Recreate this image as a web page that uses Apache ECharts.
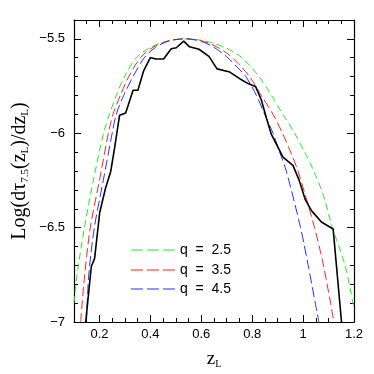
<!DOCTYPE html>
<html><head><meta charset="utf-8">
<script src="https://cdn.jsdelivr.net/npm/echarts@6/dist/echarts.min.js"></script>
<style>html,body{margin:0;padding:0;background:#fff}#c{width:374px;height:374px}</style>
</head><body><div id="c"></div>
<script>
// Observed (black) curve: [zL, log value]
var observed = [[0.146,-7.0],[0.168,-6.706],[0.181,-6.663],[0.201,-6.42],[0.224,-6.29],[0.244,-6.204],[0.26,-6.074],[0.279,-5.905],[0.303,-5.893],[0.332,-5.772],[0.351,-5.772],[0.374,-5.668],[0.40,-5.599],[0.421,-5.607],[0.452,-5.607],[0.482,-5.552],[0.502,-5.547],[0.531,-5.512],[0.554,-5.542],[0.591,-5.555],[0.63,-5.593],[0.662,-5.659],[0.712,-5.676],[0.751,-5.711],[0.784,-5.737],[0.814,-5.754],[0.836,-5.824],[0.856,-5.919],[0.875,-6.005],[0.921,-6.126],[0.96,-6.17],[0.984,-6.247],[1.008,-6.35],[1.033,-6.41],[1.072,-6.47],[1.118,-6.507],[1.151,-7.0]];
// Model curves
var q25 = [[0.10,-6.90],[0.112,-6.75],[0.141,-6.50],[0.176,-6.25],[0.216,-6.00],[0.239,-5.90],[0.266,-5.80],[0.298,-5.70],[0.345,-5.60],[0.40,-5.545],[0.45,-5.518],[0.50,-5.504],[0.54,-5.50],[0.60,-5.507],[0.65,-5.524],[0.70,-5.55],[0.76,-5.60],[0.827,-5.70],[0.876,-5.80],[0.921,-5.90],[0.967,-6.00],[1.006,-6.10],[1.042,-6.20],[1.08,-6.33],[1.115,-6.50],[1.165,-6.70],[1.196,-6.90],[1.20,-6.92]];
var q35 = [[0.126,-7.0],[0.142,-6.75],[0.164,-6.50],[0.20,-6.25],[0.235,-6.00],[0.253,-5.90],[0.282,-5.80],[0.315,-5.70],[0.361,-5.60],[0.41,-5.545],[0.46,-5.515],[0.50,-5.503],[0.54,-5.50],[0.60,-5.51],[0.65,-5.535],[0.70,-5.575],[0.745,-5.63],[0.79,-5.70],[0.836,-5.80],[0.882,-5.90],[0.919,-6.00],[0.951,-6.10],[0.98,-6.20],[1.045,-6.50],[1.08,-6.70],[1.108,-6.90],[1.121,-7.0]];
var q45 = [[0.149,-7.0],[0.158,-6.75],[0.180,-6.50],[0.215,-6.25],[0.25,-6.00],[0.266,-5.90],[0.295,-5.80],[0.332,-5.70],[0.376,-5.60],[0.42,-5.545],[0.47,-5.512],[0.51,-5.502],[0.54,-5.50],[0.60,-5.513],[0.65,-5.545],[0.70,-5.595],[0.745,-5.655],[0.775,-5.70],[0.817,-5.80],[0.849,-5.90],[0.882,-6.00],[0.908,-6.10],[0.934,-6.20],[0.99,-6.50],[1.02,-6.70],[1.048,-6.90],[1.062,-7.0]];
var seriesNames = ['q  =  2.5','q  =  3.5','q  =  4.5'];
var xMajor = [0.2,0.4,0.6,0.8,1,1.2];
var yMajor = [-7,-6.5,-6,-5.5];

var chart = echarts.init(document.getElementById('c'), null, {renderer:'canvas'});
var lab = {fontFamily:'Liberation Sans', fontSize:13, color:'#000'};
function fmt(v){ return String(+v.toFixed(2)).replace('-', '\u2212'); }
function xAx(pos, major, show){
  return {type:'value', position:pos, min:0.1, max:1.2, interval: 0.05,
    axisLine:{show:show, onZero:false, lineStyle:{color:'#000', width:1.2}},
    axisTick: major ? {show:true, inside:true, length:7, customValues:xMajor, lineStyle:{color:'#000'}} : {show:true, inside:true, length:4, lineStyle:{color:'#000'}},
    axisLabel: (major && pos==='bottom') ? Object.assign({show:true, customValues:xMajor, margin:6, formatter:fmt}, lab) : {show:false},
    splitLine:{show:false}};
}
function yAx(pos, major, show){
  return {type:'value', position:pos, min:-7, max:-5.4, interval: 0.1,
    axisLine:{show:show, onZero:false, lineStyle:{color:'#000', width:1.2}},
    axisTick: major ? {show:true, inside:true, length:7, customValues:yMajor, lineStyle:{color:'#000'}} : {show:true, inside:true, length:4, lineStyle:{color:'#000'}},
    axisLabel: (major && pos==='left') ? Object.assign({show:true, customValues:yMajor, margin:9, formatter:fmt}, lab) : {show:false},
    splitLine:{show:false}};
}
var xs = [xAx('bottom',false,true), xAx('bottom',true,false), xAx('top',false,true), xAx('top',true,false)];
xs[0].name = '{m|z}{s|L}'; xs[0].nameLocation='middle'; xs[0].nameGap=26;
xs[0].nameTextStyle = {rich:{m:{fontFamily:'Liberation Serif', fontSize:19, color:'#000', lineHeight:22}, s:{fontFamily:'Liberation Serif', fontSize:10, color:'#000', lineHeight:12, padding:[10,0,0,0]}}};
var ys = [yAx('left',false,true), yAx('left',true,false), yAx('right',false,true), yAx('right',true,false)];
ys[0].name = '{m|Log(d\u03c4}{s|7.5}{m|(z}{s|L}{m|)/dz}{s|L}{m|)}'; ys[0].nameLocation='middle'; ys[0].nameGap=42; ys[0].nameRotate=90;
ys[0].nameTextStyle = {rich:{m:{fontFamily:'Liberation Serif', fontSize:20, color:'#000', lineHeight:24}, s:{fontFamily:'Liberation Serif', fontSize:11, color:'#000', lineHeight:13, padding:[11,0,0,0]}}};

var dashIcon = 'path://M0,0h12v1h-12z M16,0h12v1h-12z M32,0h12v1h-12z';
function legendFor(i, top){
  return {left:126, top:top, itemWidth:44, itemHeight:1.2, itemGap:5, selectedMode:false,
    data:[{name:seriesNames[i], icon:dashIcon}],
    textStyle:{fontFamily:'Liberation Sans', fontSize:14, color:'#000'}};
}
var option = {
  animation:false,
  backgroundColor:'#fff',
  grid:{left:74, right:20, top:20, bottom:46, containLabel:false},
  xAxis: xs, yAxis: ys,
  legend:[legendFor(0,238), legendFor(1,258), legendFor(2,277)],
  series:[
    {name:seriesNames[0], type:'line', data:q25, symbol:'none', smooth:0.3, lineStyle:{color:'#22ee22', width:1, type:[7,4]}, itemStyle:{color:'#22ee22'}, z:3},
    {name:seriesNames[1], type:'line', data:q35, symbol:'none', smooth:0.3, lineStyle:{color:'#ff2222', width:1, type:[9,4]}, itemStyle:{color:'#ff2222'}, z:3},
    {name:seriesNames[2], type:'line', data:q45, symbol:'none', smooth:0.3, lineStyle:{color:'#2233ff', width:1, type:[10,4]}, itemStyle:{color:'#2233ff'}, z:3},
    {name:'observed', type:'line', data:observed, symbol:'none', lineStyle:{color:'#000', width:1.6}, itemStyle:{color:'#000'}, z:4}
  ]
};
chart.setOption(option);
</script></body></html>
